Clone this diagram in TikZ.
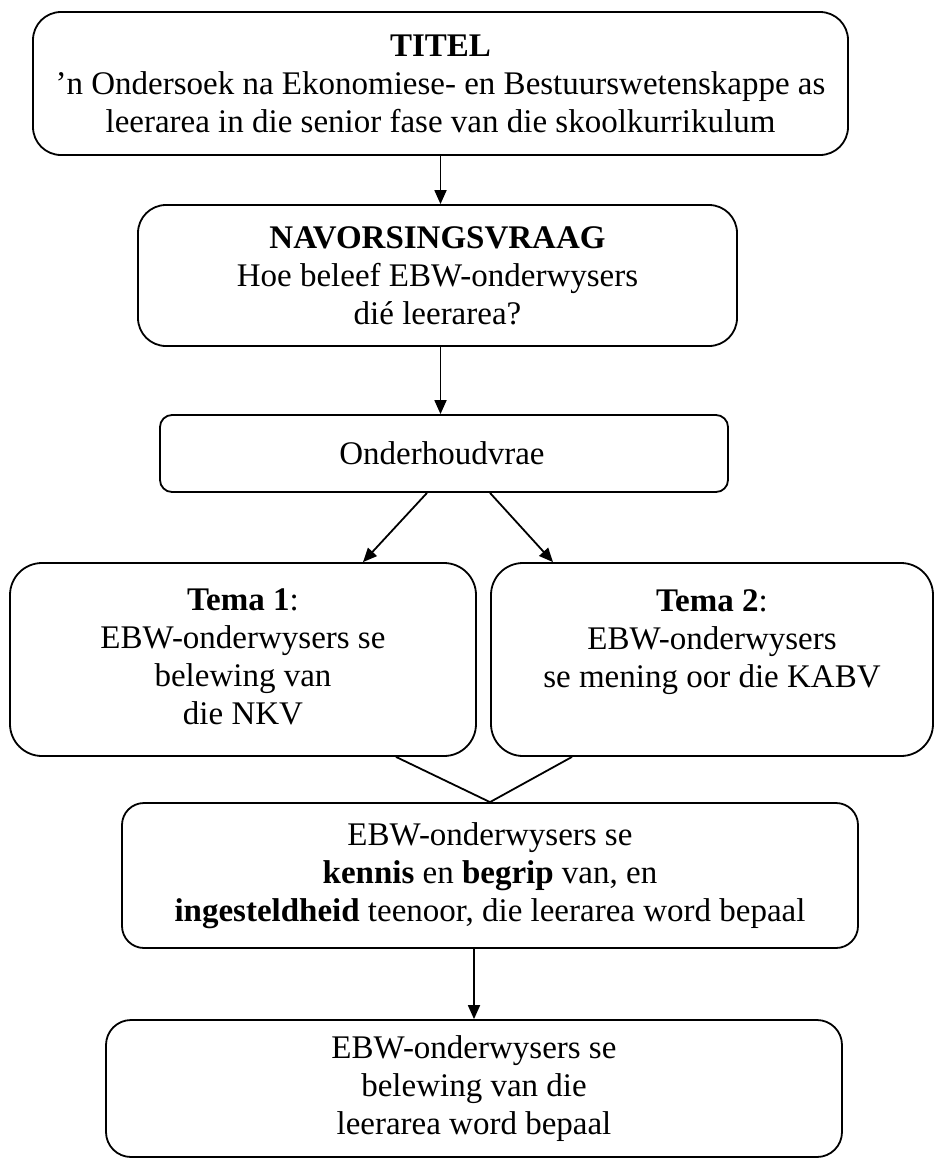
\documentclass[tikz,border=0pt]{standalone}
\usepackage{fontspec}
\setmainfont{Liberation Serif}
\usetikzlibrary{arrows.meta}
\begin{document}
\begin{tikzpicture}[x=1pt,y=-1pt,
  every node/.style={font=\fontsize{33}{38}\selectfont, inner sep=0pt},
  box/.style={draw, line width=1.8pt, rounded corners=#1},
  box/.default=28pt,
  txt/.style={align=center},
  arr/.style={line width=1.8pt, -{Triangle[length=14pt,width=12pt]}},
  conn/.style={line width=1.8pt}]
\useasboundingbox (0,0) rectangle (945,1160);

\node[box, minimum width=815pt, minimum height=143pt, align=center] (b1) at (440.5,83.5)
  {\textbf{TITEL}\\’n Ondersoek na Ekonomiese- en Bestuurswetenskappe as\\leerarea in die senior fase van die skoolkurrikulum};

\node[box, minimum width=599pt, minimum height=141pt, align=center] (b2) at (437.5,275.5)
  {\textbf{NAVORSINGSVRAAG}\\Hoe beleef EBW-onderwysers\\dié leerarea?};

\node[box=12pt, minimum width=568pt, minimum height=77pt] (b3) at (444,453.5) {};
\node[txt] (b3t) at (442,453.5) {Onderhoudvrae};

\node[box=32pt, minimum width=466pt, minimum height=193pt] (t1) at (243,659.5) {};
\node[txt, anchor=north] (t1t) at (243,589) {\textbf{Tema 1}:\\EBW-onderwysers se\\belewing van\\die NKV};

\node[box=32pt, minimum width=442pt, minimum height=193pt] (t2) at (712,659.5) {};
\node[txt, anchor=north] (t2t) at (712,589) {\textbf{Tema 2}:\\EBW-onderwysers\\se mening oor die KABV};

\node[box=22pt, minimum width=736pt, minimum height=145pt, align=center] (b5) at (490,875.5)
  {EBW-onderwysers se\\\textbf{kennis} en \textbf{begrip} van, en\\\textbf{ingesteldheid} teenoor, die leerarea word bepaal};

\node[box=25pt, minimum width=736pt, minimum height=137pt, align=center] (b6) at (474,1088.5)
  {EBW-onderwysers se\\belewing van die\\leerarea word bepaal};

\draw[arr] (b1.south) -- (b1.south |- b2.north);
\draw[arr] ([xshift=3pt]b2.south) -- ([xshift=3pt]b2.south |- b3.north);
\draw[arr] ([xshift=-17pt]b3.south) -- ([xshift=120pt]t1.north);
\draw[arr] ([xshift=46pt]b3.south) -- ([xshift=-159pt]t2.north);
\draw[conn] ([xshift=153pt]t1.south) -- (b5.north) -- ([xshift=-140pt]t2.south);
\draw[arr] ([xshift=-16pt]b5.south) -- (b6.north);
\end{tikzpicture}
\end{document}
